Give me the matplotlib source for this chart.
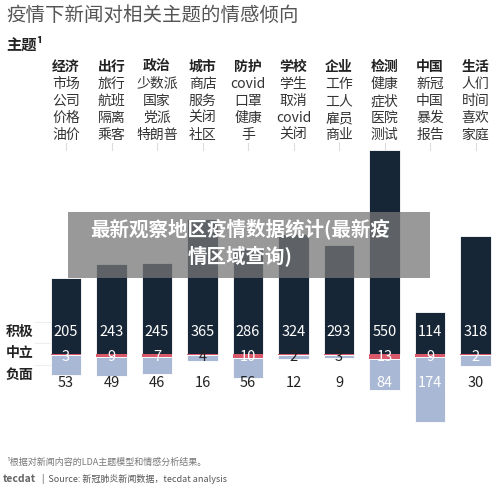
import matplotlib.pyplot as plt
import numpy as np

plt.rcParams['font.family'] = ['Noto Sans CJK SC', 'DejaVu Sans']

topics = ['经济', '出行', '政治', '城市', '防护', '学校', '企业', '检测', '中国', '生活']
words = [
    ['市场', '公司', '价格', '油价'],
    ['旅行', '航班', '隔离', '乘客'],
    ['少数派', '国家', '党派', '特朗普'],
    ['商店', '服务', '关闭', '社区'],
    ['covid', '口罩', '健康', '手'],
    ['学生', '取消', 'covid', '关闭'],
    ['工作', '工人', '雇员', '商业'],
    ['健康', '症状', '医院', '测试'],
    ['新冠', '中国', '暴发', '报告'],
    ['人们', '时间', '喜欢', '家庭'],
]
positive = [205, 243, 245, 365, 286, 324, 293, 550, 114, 318]
neutral = [3, 9, 7, 4, 10, 2, 3, 13, 9, 2]
negative = [53, 49, 46, 16, 56, 12, 9, 84, 174, 30]

W, H = 500, 492
fig = plt.figure(figsize=(5, 4.92), dpi=100)
ax = fig.add_axes([0, 0, 1, 1])
ax.axis('off')

pxu = 0.371  # pixels per unit
base = 354
ax.set_ylim(-(H - base) / pxu, base / pxu)
ax.set_xlim(-66 / 45.5, (W - 66) / 45.5)

x = np.arange(len(topics))
pos = np.array(positive)
neu = np.array(neutral)
neg = np.array(negative)
ax.bar(x, pos, width=0.68, color='#172636', edgecolor='white', linewidth=0.6)
ax.bar(x, -neu, width=0.68, color='#d9596b', linewidth=0)
ax.bar(x, -neg, bottom=-neu, width=0.68, color='#a9b8d4', edgecolor='white', linewidth=0.6)

def fy(p):
    return 1 - p / H

for i in x:
    ax.text(i, 60, str(pos[i]), ha='center', va='center', color='white', fontsize=10.5)
    ax.text(i, -9, str(neu[i]), ha='center', va='center',
            color='white' if neg[i] > 20 else '#222222', fontsize=10.5)
    inside = neg[i] > 70
    ax.text(i, -78, str(neg[i]), ha='center', va='center',
            color='white' if inside else '#222222', fontsize=10.5)
    xc = (66 + 45.5 * i) / W
    fig.text(xc, fy(67), topics[i], ha='center', va='center', fontsize=10, fontweight='bold', color='#222222')
    for k, w in enumerate(words[i]):
        fig.text(xc, fy(84 + 17 * k), w, ha='center', va='center', fontsize=10, color='#333333')
    fig.add_artist(plt.Line2D([xc, xc], [fy(143), fy(150)], color='#dddddd', lw=0.8))

for lab, yp in [('积极', 332), ('中立', 353), ('负面', 375)]:
    fig.text(0.012, fy(yp), lab, ha='left', va='center', fontsize=10, fontweight='bold', color='#222222')
    fig.add_artist(plt.Line2D([35 / W, 50 / W], [fy(yp - 10), fy(yp - 10)], color='#eeeeee', lw=0.8))

fig.text(0.012, fy(15), '疫情下新闻对相关主题的情感倾向', ha='left', va='center', fontsize=14, color='#555555')
fig.text(0.012, fy(45), '主题¹', ha='left', va='center', fontsize=11, fontweight='bold', color='#222222')
fig.text(0.012, fy(462), '¹根据对新闻内容的LDA主题模型和情感分析结果。', ha='left', va='center', fontsize=6.5, color='#777777')
fig.text(0.005, fy(479), 'tecdat', ha='left', va='center', fontsize=7.5, color='#666666', fontweight='bold')
fig.text(0.085, fy(479), '|  Source: 新冠肺炎新闻数据，tecdat analysis', ha='left', va='center', fontsize=6.5, color='#555555')

fig.patches.append(plt.Rectangle((68 / W, fy(278)), 362 / W, 66 / H, transform=fig.transFigure,
                                 facecolor='#777777', alpha=0.75, edgecolor='none'))
fig.text(0.48, fy(229), '最新观察地区疫情数据统计(最新疫', ha='center', va='center', fontsize=14,
         fontweight='bold', color='white')
fig.text(0.48, fy(256), '情区域查询)', ha='center', va='center', fontsize=14,
         fontweight='bold', color='white')

fig.savefig('out.png', dpi=100, facecolor='white')
